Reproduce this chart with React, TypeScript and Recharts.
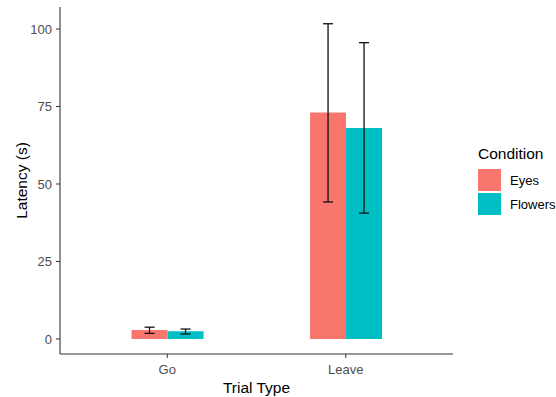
import React from 'react';
import { BarChart, Bar, XAxis, YAxis, ErrorBar, Legend } from 'recharts';

const categories = ['Go', 'Leave'];
const eyesMean = [2.9, 73.1];
const eyesLow = [1.8, 44.2];
const eyesHigh = [3.8, 101.7];
const flowersMean = [2.5, 68.1];
const flowersLow = [1.6, 40.6];
const flowersHigh = [3.2, 95.6];
const yTicks = [0, 25, 50, 75, 100];
const seriesNames = ['Eyes', 'Flowers'];
const seriesColors = ['#F8766D', '#00BFC4'];

const data = categories.map((c, i) => ({
  type: c,
  eyes: eyesMean[i],
  eyesErr: [eyesMean[i] - eyesLow[i], eyesHigh[i] - eyesMean[i]],
  flowers: flowersMean[i],
  flowersErr: [flowersMean[i] - flowersLow[i], flowersHigh[i] - flowersMean[i]],
}));

const FONT = '"Liberation Sans", Arial, sans-serif';

const LegendContent = () => (
  <div style={{ position: 'relative', width: 556, height: 397, fontFamily: FONT }}>
    <div style={{ position: 'absolute', left: 478, top: 145, fontSize: 15.5, lineHeight: '18px', color: '#000' }}>
      Condition
    </div>
    {seriesNames.map((n, i) => (
      <div key={n} style={{ position: 'absolute', left: 478, top: 169 + i * 24, height: 22, display: 'flex', alignItems: 'center' }}>
        <div style={{ width: 23, height: 22, background: seriesColors[i] }} />
        <div style={{ marginLeft: 9, fontSize: 13, color: '#000', whiteSpace: 'nowrap' }}>{n}</div>
      </div>
    ))}
  </div>
);

export default function App() {
  return (
    <div style={{ position: 'absolute', left: 0, top: 0, width: 556, height: 397, background: '#fff', fontFamily: FONT, overflow: 'hidden' }}>
      <BarChart
        width={556}
        height={397}
        data={data}
        margin={{ top: 7, right: 103, bottom: 0, left: 0 }}
        barCategoryGap="30%"
        barGap={0}
      >
        <XAxis
          dataKey="type"
          height={43}
          padding={{ left: 18, right: 18 }}
          axisLine={{ stroke: '#333', strokeWidth: 1.1 }}
          tickLine={{ stroke: '#333' }}
          tickSize={4}
          tickMargin={7}
          tick={{ fill: '#4D4D4D', fontSize: 13, fontFamily: FONT }}
          label={({ viewBox }: any) => (
            <text
              x={viewBox.x + viewBox.width / 2}
              y={viewBox.y + 38.5}
              textAnchor="middle"
              fontSize={15.5}
              fill="#000"
              fontFamily={FONT}
            >
              Trial Type
            </text>
          )}
        />
        <YAxis
          width={60}
          domain={[-4.85, 107.1]}
          ticks={yTicks}
          allowDataOverflow
          axisLine={{ stroke: '#333', strokeWidth: 1.1 }}
          tickLine={{ stroke: '#333' }}
          tickSize={4}
          tickMargin={4}
          tick={{ fill: '#4D4D4D', fontSize: 13, fontFamily: FONT }}
          label={({ viewBox }: any) => {
            const cx = 26.5;
            const cy = viewBox.y + viewBox.height / 2;
            return (
              <text
                x={cx}
                y={cy}
                transform={`rotate(-90, ${cx}, ${cy})`}
                textAnchor="middle"
                fontSize={15.5}
                fill="#000"
                fontFamily={FONT}
              >
                Latency (s)
              </text>
            );
          }}
        />
        <Legend
          layout="vertical"
          align="center"
          verticalAlign="middle"
          wrapperStyle={{ left: 0, top: 0, width: 556, height: 397, pointerEvents: 'none' }}
          content={() => <LegendContent />}
        />
        <Bar dataKey="eyes" name="Eyes" fill={seriesColors[0]} isAnimationActive={false}>
          <ErrorBar dataKey="eyesErr" width={5} stroke="#111" strokeWidth={1.3} direction="y" />
        </Bar>
        <Bar dataKey="flowers" name="Flowers" fill={seriesColors[1]} isAnimationActive={false}>
          <ErrorBar dataKey="flowersErr" width={5} stroke="#111" strokeWidth={1.3} direction="y" />
        </Bar>
      </BarChart>
    </div>
  );
}
